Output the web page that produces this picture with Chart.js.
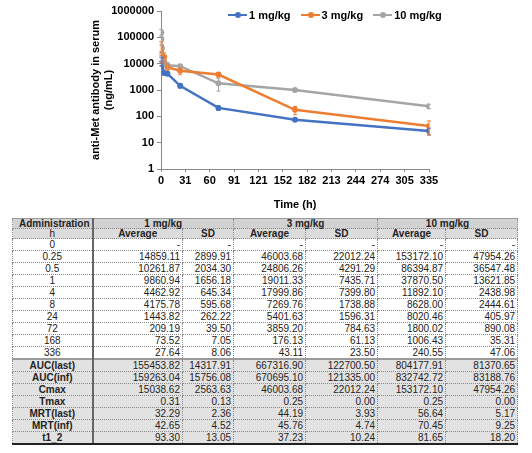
<!DOCTYPE html>
<html>
<head>
<meta charset="utf-8">
<script src="https://cdn.jsdelivr.net/npm/chart.js@4"></script>
<style>
    body { margin: 0; background: #fff; width: 532px; height: 453px; position: relative; overflow: hidden; font-family: "Liberation Sans", Arial, sans-serif; }
    .chart-box { position: absolute; left: 0; top: 0; width: 532px; height: 212px; }
    .legend { position: absolute; left: 228px; top: 9px; display: flex; align-items: center; font: bold 11px "Liberation Sans", Arial, sans-serif; color: #000; }
    .legend .item { display: flex; align-items: center; margin-right: 10px; }
    .legend .line { position: relative; width: 19px; height: 2.5px; margin-right: 2px; }
    .legend .line::after { content: ""; position: absolute; left: 7px; top: -2px; width: 6px; height: 6px; border-radius: 50%; background: inherit; }
    table.pk { position: absolute; left: 12px; top: 218px; width: 505px; border-collapse: collapse; table-layout: fixed; font-size: 10px; color: #222; }
    table.pk td { padding: 0 2px; white-space: nowrap; overflow: visible; border: 1px dotted #8a8a8a; }
    table.pk tr.h1 td { height: 9px; line-height: 9px; background: #d2d2d2; font-weight: bold; text-align: center; font-size: 10px; }
    table.pk tr.h2 td { height: 9px; line-height: 9px; background: #dcdcdc; font-weight: bold; text-align: center; font-size: 10px; }
    table.pk tr.h1 td:first-child { text-align: left; padding-left: 6px; }
    table.pk tr.h2 td:first-child { font-weight: normal; }
    table.pk tr.d td { height: 11px; line-height: 11px; text-align: right; }
    table.pk tr.d td:first-child { text-align: center; }
    table.pk tr.s td { height: 11px; line-height: 11px; text-align: right; background: #e2e2e2; }
    table.pk tr.s td:first-child { text-align: center; font-weight: bold; }
    table.pk tr.s.first td { border-top: 2px solid #9a9a9a; }
    table.pk tr.last td { border-bottom: 2px solid #222; }
    table.pk tr.h1 td { border-top: 1px solid #9a9a9a; }
    table.pk td:first-child { border-right: 2px solid #666; }
</style>
</head>
<body>
<div class="chart-box"><canvas id="pkChart"></canvas></div>
<div class="legend" id="legend"></div>
<table class="pk" id="pkTable"></table>
<script>
// data
const groups = ['1 mg/kg', '3 mg/kg', '10 mg/kg'];
const colors = ['#4472C4', '#ED7D31', '#A5A5A5'];
const times = [0, 0.25, 0.5, 1, 4, 8, 24, 72, 168, 336];
const timeLabels = ['0', '0.25', '0.5', '1', '4', '8', '24', '72', '168', '336'];

const avg1 = [null, 14859.11, 10261.87, 9860.94, 4462.92, 4175.78, 1443.82, 209.19, 73.52, 27.64];
const sd1 = [null, 2899.91, 2034.30, 1656.18, 645.34, 595.68, 262.22, 39.50, 7.05, 8.06];
const avg3 = [null, 46003.68, 24806.26, 19011.33, 17999.86, 7269.76, 5401.63, 3859.20, 176.13, 43.11];
const sd3 = [null, 22012.24, 4291.29, 7435.71, 7399.80, 1738.88, 1596.31, 784.63, 61.13, 23.50];
const avg10 = [null, 153172.10, 86394.87, 37870.50, 11892.10, 8628.00, 8020.46, 1800.02, 1006.43, 240.55];
const sd10 = [null, 47954.26, 36547.48, 13621.85, 2438.98, 2444.61, 405.97, 890.08, 35.31, 47.06];

const paramNames = ['AUC(last)', 'AUC(inf)', 'Cmax', 'Tmax', 'MRT(last)', 'MRT(inf)', 't1_2'];
const paramAvg1 = [155453.82, 159263.04, 15038.62, 0.31, 32.29, 42.65, 93.30];
const paramSd1 = [14317.91, 15756.08, 2563.63, 0.13, 2.36, 4.52, 13.05];
const paramAvg3 = [667316.90, 670695.10, 46003.68, 0.25, 44.19, 45.76, 37.23];
const paramSd3 = [122700.50, 121335.00, 22012.24, 0.00, 3.93, 4.74, 10.24];
const paramAvg10 = [804177.91, 832742.72, 153172.10, 0.25, 56.64, 70.45, 81.65];
const paramSd10 = [81370.65, 83188.76, 47954.26, 0.00, 5.17, 9.25, 18.20];

const xTickLabels = ['0', '31', '60', '91', '121', '152', '182', '213', '244', '274', '305', '335'];
const yTickValues = [1, 10, 100, 1000, 10000, 100000, 1000000];

const averages = [avg1, avg3, avg10];
const sds = [sd1, sd3, sd10];

const errorBars = {
    id: 'errorBars',
    afterDatasetsDraw(chart) {
        const ctx = chart.ctx;
        const xs = chart.scales.x;
        const ys = chart.scales.y;
        ctx.save();
        averages.forEach((avg, d) => {
            ctx.strokeStyle = colors[d];
            ctx.lineWidth = 1;
            avg.forEach((v, i) => {
                if (v === null) return;
                const x = xs.getPixelForValue(times[i]);
                const top = ys.getPixelForValue(v + sds[d][i]);
                const bot = ys.getPixelForValue(v - sds[d][i]);
                ctx.beginPath();
                ctx.moveTo(x, top); ctx.lineTo(x, bot);
                ctx.moveTo(x - 2, top); ctx.lineTo(x + 2, top);
                ctx.moveTo(x - 2, bot); ctx.lineTo(x + 2, bot);
                ctx.stroke();
            });
        });
        ctx.restore();
    }
};

const boldFont = { family: 'Liberation Sans, Arial, sans-serif', size: 11, weight: 'bold' };

new Chart(document.getElementById('pkChart'), {
    type: 'line',
    data: {
        datasets: groups.map((name, d) => ({
            label: name,
            data: times.map((t, i) => ({ x: t, y: averages[d][i] })),
            borderColor: colors[d],
            backgroundColor: colors[d],
            borderWidth: 2.5,
            pointRadius: 3,
            pointBorderWidth: 0,
            tension: 0
        }))
    },
    options: {
        responsive: true,
        maintainAspectRatio: false,
        animation: false,
        layout: { padding: { left: 89, right: 103, top: 11, bottom: 0 } },
        plugins: {
            tooltip: { enabled: false },
            legend: { display: false }
        },
        scales: {
            x: {
                type: 'linear',
                min: 0,
                max: 336,
                afterBuildTicks: (scale) => {
                    scale.ticks = xTickLabels.map((l, i) => ({ value: i * 336 / 11 }));
                },
                afterFit: (scale) => { scale.height = 43; },
                ticks: {
                    font: boldFont,
                    color: '#000',
                    padding: 2,
                    maxRotation: 0,
                    autoSkip: false,
                    callback: (v, i) => xTickLabels[i]
                },
                grid: { drawOnChartArea: false, tickLength: 3, color: '#888' },
                border: { color: '#888' },
                title: { display: true, text: 'Time (h)', font: boldFont, color: '#000', padding: { top: 4, bottom: 0 } }
            },
            y: {
                type: 'logarithmic',
                min: 1,
                max: 1000000,
                afterBuildTicks: (scale) => {
                    scale.ticks = yTickValues.map(v => ({ value: v }));
                },
                afterFit: (scale) => { scale.width = 72; },
                ticks: {
                    font: boldFont,
                    color: '#000',
                    padding: 3,
                    autoSkip: false,
                    callback: (v) => String(v)
                },
                grid: { drawOnChartArea: false, tickLength: 4, color: '#888' },
                border: { color: '#888' },
                title: {
                    display: true,
                    text: ['anti-Met antibody in serum', '(ng/mL)'],
                    font: boldFont,
                    color: '#000',
                    padding: 0
                }
            }
        }
    },
    plugins: [errorBars]
});

// legend
document.getElementById('legend').innerHTML = groups.map((g, d) =>
    `<span class="item"><span class="line" style="background:${colors[d]}"></span>${g}</span>`).join('');

// table
const fmt = (v) => v === null ? '-' : v.toFixed(2);
const table = document.getElementById('pkTable');
let html = '<colgroup><col style="width:80px"><col style="width:90px"><col style="width:51px">' +
    '<col style="width:72px"><col style="width:72px"><col style="width:68px"><col style="width:72px"></colgroup>';
html += '<tr class="h1"><td>Administration</td>' + groups.map(g => `<td colspan="2">${g}</td>`).join('') + '</tr>';
html += '<tr class="h2"><td>h</td>' + groups.map(() => '<td>Average</td><td>SD</td>').join('') + '</tr>';
timeLabels.forEach((t, i) => {
    html += `<tr class="d"><td>${t}</td>` +
        averages.map((avg, d) => `<td>${fmt(avg[i])}</td><td>${fmt(sds[d][i])}</td>`).join('') + '</tr>';
});
const pAvg = [paramAvg1, paramAvg3, paramAvg10];
const pSd = [paramSd1, paramSd3, paramSd10];
paramNames.forEach((p, i) => {
    let cls = 's';
    if (i === 0) cls += ' first';
    if (i === paramNames.length - 1) cls += ' last';
    html += `<tr class="${cls}"><td>${p}</td>` +
        pAvg.map((avg, d) => `<td>${fmt(avg[i])}</td><td>${fmt(pSd[d][i])}</td>`).join('') + '</tr>';
});
table.innerHTML = html;
</script>
</body>
</html>
